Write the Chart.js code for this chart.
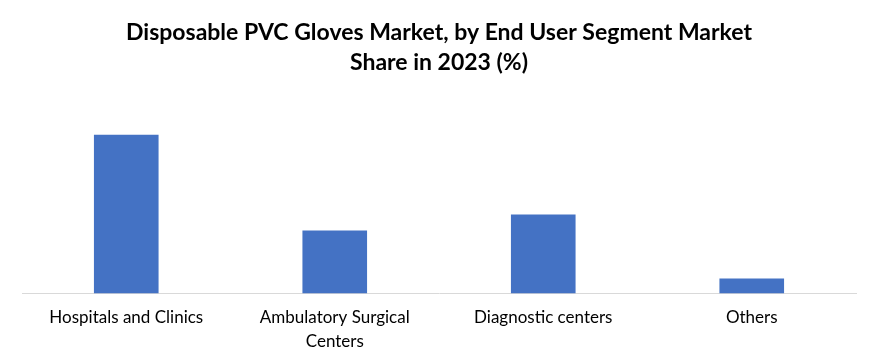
<!DOCTYPE html>
<html>
<head>
<meta charset="utf-8">
<script src="https://cdn.jsdelivr.net/npm/chart.js"></script>
<style>
  body { margin: 0; background: #ffffff; }
  #wrap { width: 879px; height: 364px; }
</style>
</head>
<body>
<div id="wrap"><canvas id="chart" width="879" height="364"></canvas></div>
<script>
const categories = ['Hospitals and Clinics', ['Ambulatory Surgical', 'Centers'], 'Diagnostic centers', 'Others'];
const shares = [50.3, 19.9, 25.0, 4.7];
const titleLines = ['Disposable PVC Gloves Market, by End User Segment Market', 'Share in 2023 (%)'];

const ctx = document.getElementById('chart').getContext('2d');
new Chart(ctx, {
  type: 'bar',
  data: {
    labels: categories,
    datasets: [{
      label: 'Share',
      data: shares,
      backgroundColor: '#4472C4',
      categoryPercentage: 1,
      barPercentage: 0.31
    }]
  },
  options: {
    responsive: false,
    animation: false,
    layout: { padding: { left: 22, right: 23, top: 14, bottom: 7 } },
    plugins: {
      legend: { display: false },
      tooltip: { enabled: false },
      title: {
        display: true,
        text: titleLines,
        color: '#000000',
        font: { family: 'Lato', size: 23, weight: 'bold', lineHeight: 1.3 },
        padding: { top: 4, bottom: 20 }
      }
    },
    scales: {
      x: {
        grid: { display: false },
        border: { color: '#d9d9d9', width: 1 },
        ticks: {
          color: '#000000',
          font: { family: 'Lato', size: 17, lineHeight: 1.4 },
          maxRotation: 0,
          padding: 4
        }
      },
      y: {
        display: false,
        min: 0,
        max: 62
      }
    }
  }
});
</script>
</body>
</html>
